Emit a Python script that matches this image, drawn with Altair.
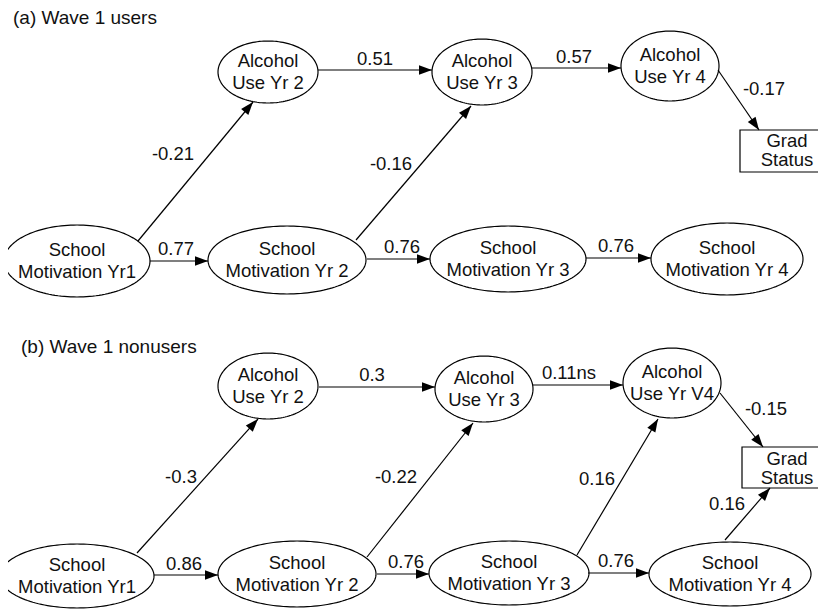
import altair as alt
import numpy as np
import pandas as pd

# ---------------- data (image pixel coordinates of the path diagram) -------------
node_id = ["a_au2", "a_au3", "a_au4", "a_sm1", "a_sm2", "a_sm3", "a_sm4",
           "b_au2", "b_au3", "b_au4", "b_sm1", "b_sm2", "b_sm3", "b_sm4"]
node_cx = [268, 482, 670, 77, 287, 508, 727, 268, 484, 672, 77, 297, 509, 730]
node_cy = [72, 72, 66, 261, 260, 259, 259, 386, 389, 383, 576, 574, 573, 574]
node_rx = [50, 50, 49, 73, 79, 78, 76, 50, 49, 49, 77, 79, 80, 81]
node_ry = [31, 33, 35, 36, 34, 33, 36, 33, 33, 35, 32, 33, 32, 32]
node_line1 = ["Alcohol", "Alcohol", "Alcohol", "School", "School", "School", "School",
              "Alcohol", "Alcohol", "Alcohol", "School", "School", "School", "School"]
node_line2 = ["Use Yr 2", "Use Yr 3", "Use Yr 4", "Motivation Yr1", "Motivation Yr 2",
              "Motivation Yr 3", "Motivation Yr 4",
              "Use Yr 2", "Use Yr 3", "Use Yr V4", "Motivation Yr1", "Motivation Yr 2",
              "Motivation Yr 3", "Motivation Yr 4"]

box_x1 = [740, 742]
box_x2 = [825, 825]
box_y1 = [130, 447]
box_y2 = [172, 488]
box_text_x = [787, 787]
box_line1_y = [147, 465]
box_line2_y = [166, 484]
box_line1 = ["Grad", "Grad"]
box_line2 = ["Status", "Status"]

edge_x1 = [138, 150, 356, 367, 586, 318, 532, 718,
           137, 154, 367, 377, 577, 588, 725, 319, 533, 720]
edge_y1 = [241, 261, 240, 259, 258, 70, 68, 70,
           553, 575, 557, 574, 555, 573, 540, 387, 385, 393]
edge_x2 = [253, 208, 471, 430, 651, 432, 621, 759,
           258, 218, 473, 429, 658, 649, 770, 435, 623, 763]
edge_y2 = [102, 261, 106, 259, 258, 70, 68, 130,
           419, 575, 423, 574, 419, 573, 488, 387, 385, 447]

label_text = ["-0.21", "0.77", "-0.16", "0.76", "0.76", "0.51", "0.57", "-0.17",
              "-0.3", "0.86", "-0.22", "0.76", "0.16", "0.76", "0.16", "0.3", "0.11ns", "-0.15"]
label_x = [173, 176, 391, 402, 616, 375, 574, 764,
           181, 184, 396, 406, 597, 616, 727, 372, 569, 766]
label_y = [160, 255, 170, 253, 252, 65, 63, 95,
           483, 570, 483, 568, 485, 567, 510, 381, 379, 415]

title_text = ["(a) Wave 1 users", "(b) Wave 1 nonusers"]
title_x = [13, 21]
title_y = [24, 353]

# ---------------- build tables ----------------
t = np.linspace(0, 2 * np.pi, 145)
ell_rows = []
for i, nid in enumerate(node_id):
    for k, tt in enumerate(t):
        ell_rows.append({"id": nid, "k": k,
                         "x": node_cx[i] + node_rx[i] * np.cos(tt),
                         "y": node_cy[i] + node_ry[i] * np.sin(tt)})
ell_df = pd.DataFrame(ell_rows)

text_rows = []
for i in range(len(node_id)):
    text_rows.append({"x": node_cx[i], "y": node_cy[i] - 5.5, "t": node_line1[i]})
    text_rows.append({"x": node_cx[i], "y": node_cy[i] + 16.5, "t": node_line2[i]})
for i in range(len(box_x1)):
    text_rows.append({"x": box_text_x[i], "y": box_line1_y[i], "t": box_line1[i]})
    text_rows.append({"x": box_text_x[i], "y": box_line2_y[i], "t": box_line2[i]})
for i in range(len(label_text)):
    text_rows.append({"x": label_x[i], "y": label_y[i], "t": label_text[i]})
text_df = pd.DataFrame(text_rows)

title_df = pd.DataFrame({"x": title_x, "y": title_y, "t": title_text})

box_df = pd.DataFrame({"x": box_x1, "x2": box_x2, "y": box_y1, "y2": box_y2})

edge_df = pd.DataFrame({"x": edge_x1, "y": edge_y1, "x2": edge_x2, "y2": edge_y2})

ARROW_HALF = 6.5
arr_rows = []
for x1, y1, x2, y2 in zip(edge_x1, edge_y1, edge_x2, edge_y2):
    dx, dy = x2 - x1, y2 - y1
    L = np.hypot(dx, dy)
    ux, uy = dx / L, dy / L
    ang = (np.degrees(np.arctan2(dx, -dy)) + 360) % 360
    arr_rows.append({"x": x2 - ARROW_HALF * ux, "y": y2 - ARROW_HALF * uy, "a": ang})
arr_df = pd.DataFrame(arr_rows)

# ---------------- chart ----------------
# page has an 8px margin: image pixel p is drawn at plot pixel p - 8
xs = alt.Scale(domain=[8, 818], nice=False, zero=False)
ys = alt.Scale(domain=[8, 609], reverse=True, nice=False, zero=False)
FONT = "Liberation Sans"

ellipses = alt.Chart(ell_df).mark_line(color="black", strokeWidth=1.2).encode(
    x=alt.X("x:Q", scale=xs, axis=None),
    y=alt.Y("y:Q", scale=ys, axis=None),
    detail="id:N",
    order="k:Q",
)

boxes = alt.Chart(box_df).mark_rect(fill="white", stroke="black", strokeWidth=1.2).encode(
    x=alt.X("x:Q", scale=xs, axis=None), x2="x2:Q",
    y=alt.Y("y:Q", scale=ys, axis=None), y2="y2:Q",
)

edges = alt.Chart(edge_df).mark_rule(color="black", strokeWidth=1.2).encode(
    x=alt.X("x:Q", scale=xs, axis=None), x2="x2:Q",
    y=alt.Y("y:Q", scale=ys, axis=None), y2="y2:Q",
)

arrows = alt.Chart(arr_df).mark_point(
    shape="M0,-1L0.72,1L-0.72,1Z", filled=True, fill="black", stroke=None,
    size=169, opacity=1,
).encode(
    x=alt.X("x:Q", scale=xs, axis=None),
    y=alt.Y("y:Q", scale=ys, axis=None),
    angle=alt.Angle("a:Q", scale=None),
)

texts = alt.Chart(text_df).mark_text(
    align="center", baseline="alphabetic", font=FONT, fontSize=18.5, color="#111111"
).encode(
    x=alt.X("x:Q", scale=xs, axis=None),
    y=alt.Y("y:Q", scale=ys, axis=None),
    text="t:N",
)

titles = alt.Chart(title_df).mark_text(
    align="left", baseline="alphabetic", font=FONT, fontSize=19, color="#111111"
).encode(
    x=alt.X("x:Q", scale=xs, axis=None),
    y=alt.Y("y:Q", scale=ys, axis=None),
    text="t:N",
)

chart = alt.layer(ellipses, boxes, edges, arrows, texts, titles).properties(
    width=810, height=601,
    autosize=alt.AutoSizeParams(type="none"),
    padding=0,
    background="white",
).configure_view(stroke=None)

chart.save("out.html", embed_options={"renderer": "svg", "actions": False})
